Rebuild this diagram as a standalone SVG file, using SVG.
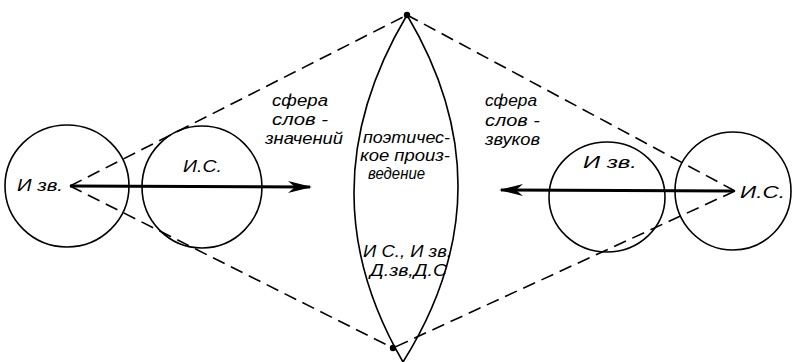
<svg xmlns="http://www.w3.org/2000/svg" width="793" height="362" viewBox="0 0 793 362">
<style>
.c{fill:none;stroke:#000;stroke-width:1.6}
.d{fill:none;stroke:#000;stroke-width:1.6;stroke-dasharray:13 7}
.a{fill:none;stroke:#000;stroke-width:3}
.t{font-family:"Liberation Sans",Arial,sans-serif;font-style:italic;font-size:16px;fill:#000}
</style>
<defs>
<marker id="ah" markerUnits="userSpaceOnUse" markerWidth="30" markerHeight="16" viewBox="-26 -8 30 16" refX="0" refY="0" orient="auto">
<path d="M2,0 L-22,-6 L-15,0 L-22,6 Z" fill="#000"/>
</marker>
</defs>
<g id="connectors">
<path class="d" d="M70,186 L407,15"/>
<path class="d" d="M70,186 L393,348"/>
<path class="d" d="M735,191 L407,15"/>
<path class="d" d="M735,191 L393,348"/>
<path class="a" d="M70,186 L310,187" marker-end="url(#ah)"/>
<path class="a" d="M733,191 L501,190" marker-end="url(#ah)"/>
</g>
<g id="left-izv">
<ellipse class="c" cx="67" cy="186" rx="62" ry="61"/>
<text class="t" x="17" y="191" textLength="46" lengthAdjust="spacingAndGlyphs">И зв.</text>
</g>
<g id="left-is">
<ellipse class="c" cx="202" cy="187" rx="60" ry="61"/>
<text class="t" x="183" y="172" textLength="39" lengthAdjust="spacingAndGlyphs">И.С.</text>
</g>
<g id="right-izv">
<ellipse class="c" cx="607" cy="197" rx="58" ry="55"/>
<text class="t" x="583" y="168" textLength="54" lengthAdjust="spacingAndGlyphs">И  зв.</text>
</g>
<g id="right-is">
<ellipse class="c" cx="733" cy="191" rx="58" ry="59"/>
<text class="t" x="740" y="198" textLength="45" lengthAdjust="spacingAndGlyphs">И.С.</text>
</g>
<g id="lens">
<path class="c" d="M407,15 Q303,190 403,362"/>
<path class="c" d="M407,15 Q511,190 403,362"/>
<circle cx="407" cy="15" r="3.2" fill="#000"/>
<circle cx="393" cy="348" r="3.2" fill="#000"/>
<text class="t" x="363" y="143" textLength="87" lengthAdjust="spacingAndGlyphs">поэтичес-</text>
<text class="t" x="360" y="161" textLength="90" lengthAdjust="spacingAndGlyphs">кое произ-</text>
<text class="t" x="368" y="179" textLength="57" lengthAdjust="spacingAndGlyphs">ведение</text>
<text class="t" x="363" y="257" textLength="89" lengthAdjust="spacingAndGlyphs">И С., И зв.</text>
<text class="t" x="370" y="276" textLength="77" lengthAdjust="spacingAndGlyphs">Д.зв,Д.С</text>
</g>
<g id="sphere-meanings">
<text class="t" x="272" y="106" textLength="56" lengthAdjust="spacingAndGlyphs">сфера</text>
<text class="t" x="272" y="125" textLength="56" lengthAdjust="spacingAndGlyphs">слов -</text>
<text class="t" x="265" y="144" textLength="78" lengthAdjust="spacingAndGlyphs">значений</text>
</g>
<g id="sphere-sounds">
<text class="t" x="485" y="106" textLength="52" lengthAdjust="spacingAndGlyphs">сфера</text>
<text class="t" x="485" y="126" textLength="55" lengthAdjust="spacingAndGlyphs">слов -</text>
<text class="t" x="485" y="145" textLength="55" lengthAdjust="spacingAndGlyphs">звуков</text>
</g>
</svg>
